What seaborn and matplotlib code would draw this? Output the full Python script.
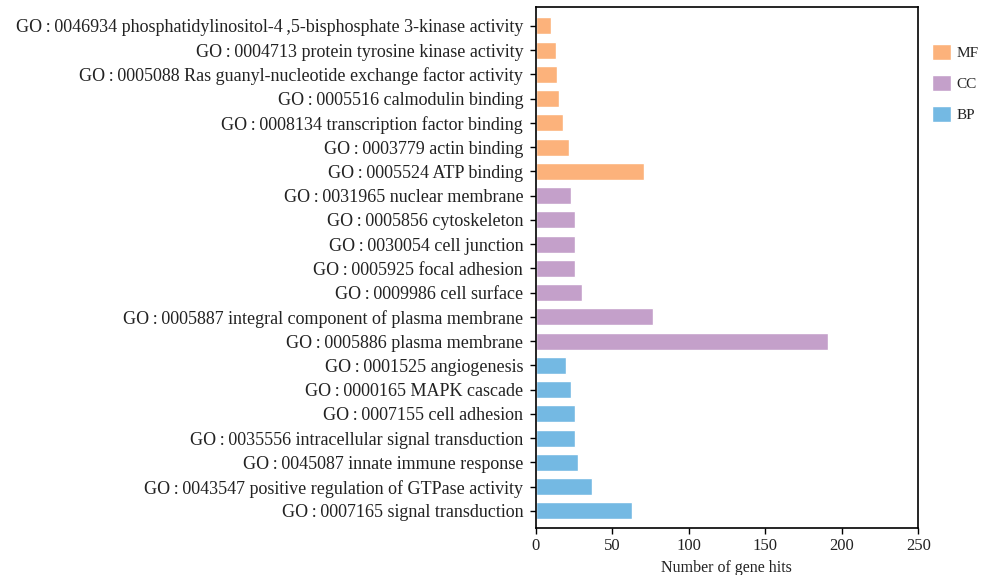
import pandas as pd
import numpy as np
import matplotlib
matplotlib.use("Agg")
import matplotlib.pyplot as plt
import seaborn as sns

# GO terms, top to bottom
terms = [
    "GO\u2009:\u20090046934 phosphatidylinositol-4\u2009,5-bisphosphate 3-kinase activity",
    "GO\u2009:\u20090004713 protein tyrosine kinase activity",
    "GO\u2009:\u20090005088 Ras guanyl-nucleotide exchange factor activity",
    "GO\u2009:\u20090005516 calmodulin binding",
    "GO\u2009:\u20090008134 transcription factor binding",
    "GO\u2009:\u20090003779 actin binding",
    "GO\u2009:\u20090005524 ATP binding",
    "GO\u2009:\u20090031965 nuclear membrane",
    "GO\u2009:\u20090005856 cytoskeleton",
    "GO\u2009:\u20090030054 cell junction",
    "GO\u2009:\u20090005925 focal adhesion",
    "GO\u2009:\u20090009986 cell surface",
    "GO\u2009:\u20090005887 integral component of plasma membrane",
    "GO\u2009:\u20090005886 plasma membrane",
    "GO\u2009:\u20090001525 angiogenesis",
    "GO\u2009:\u20090000165 MAPK cascade",
    "GO\u2009:\u20090007155 cell adhesion",
    "GO\u2009:\u20090035556 intracellular signal transduction",
    "GO\u2009:\u20090045087 innate immune response",
    "GO\u2009:\u20090043547 positive regulation of GTPase activity",
    "GO\u2009:\u20090007165 signal transduction",
]
hits = [10, 13, 14, 15, 18, 22, 71,
        23, 26, 26, 26, 30, 77, 191,
        20, 23, 26, 26, 28, 37, 63]
groups = ["MF"] * 7 + ["CC"] * 7 + ["BP"] * 7
colors = {"MF": "#FCB27B", "CC": "#C4A0CA", "BP": "#74B9E3"}

df = pd.DataFrame({"term": terms, "hits": hits, "group": groups})

sns.set_style("white")
plt.rcParams['font.family'] = ['Liberation Serif', 'DejaVu Serif']
plt.rcParams['text.color'] = '#222222'

fig = plt.figure(figsize=(9.81, 5.75), dpi=100)
ax = fig.add_axes([0.546, 0.082, 0.390, 0.906])

sns.barplot(data=df, x="hits", y="term", hue="group", palette=colors,
            order=terms, hue_order=["MF", "CC", "BP"], dodge=False,
            width=0.7, saturation=1, ax=ax)

ax.set_xlim(0, 250)
ax.set_ylim(20.7, -0.78)
ax.set_xticks([0, 50, 100, 150, 200, 250])
ax.set_xlabel("Number of gene hits", fontsize=11.5, color="#222222")
ax.set_ylabel("")
ax.tick_params(axis="both", direction="out", length=4, width=1, color="black",
               labelcolor="#222222", labelsize=13, left=True, bottom=True)
ax.tick_params(axis="y", pad=5)
ax.tick_params(axis="x", labelsize=12)
for s in ax.spines.values():
    s.set_visible(True)
    s.set_color("black")
    s.set_linewidth(1.2)

ax.legend(loc="upper left", bbox_to_anchor=(1.0, 0.955), frameon=False,
          fontsize=11, handlelength=1.25, handleheight=1.25, labelspacing=0.95,
          handletextpad=0.35)

fig.savefig("out.png", dpi=100)
